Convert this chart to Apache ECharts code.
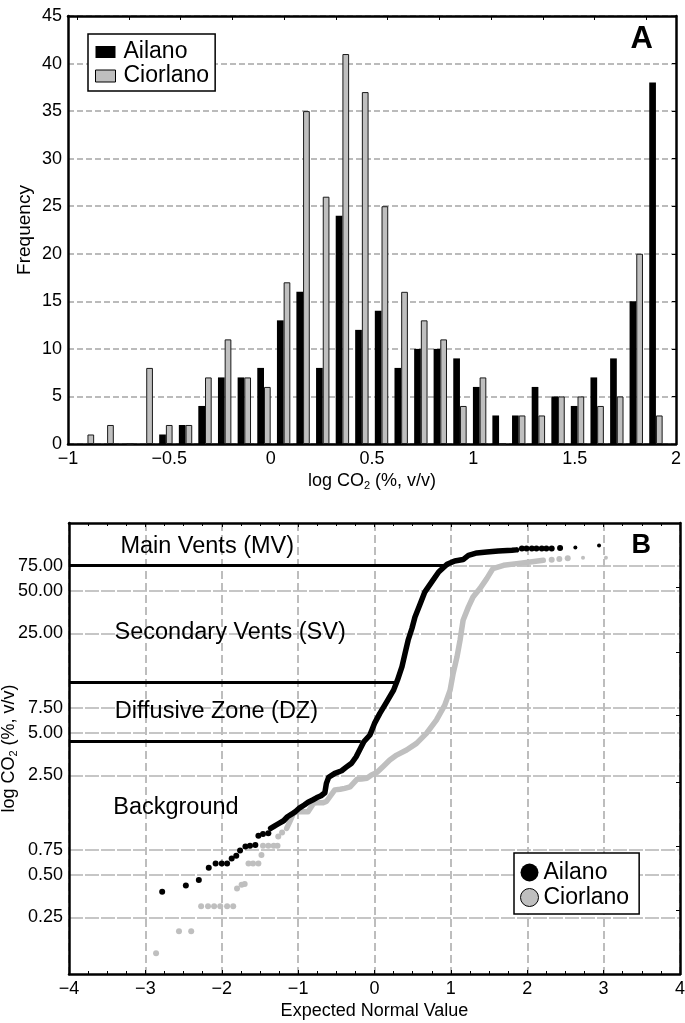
<!DOCTYPE html>
<html><head><meta charset="utf-8">
<script src="https://cdn.jsdelivr.net/npm/echarts@6/dist/echarts.min.js"></script>
<style>html,body{margin:0;padding:0;background:#fff;}#c{width:685px;height:1023px;}</style>
</head><body><div id="c"></div>
<script>
// ---------- Panel A: histogram ----------
const binCenters = [-0.904,-0.807,-0.710,-0.614,-0.517,-0.420,-0.324,-0.227,-0.130,-0.033,0.064,0.160,0.257,0.354,0.450,0.547,0.644,0.741,0.837,0.934,1.031,1.127,1.224,1.321,1.418,1.514,1.611,1.708,1.804,1.901];
const ailanoFreq   = [0,0,0,0,1,2,4,7,7,8,13,16,8,24,12,14,8,10,10,9,6,3,3,6,5,4,7,9,15,38];
const ciorlanoFreq = [1,2,0,8,2,2,7,11,7,6,17,35,26,41,37,25,16,13,11,4,7,0,3,3,5,5,4,5,20,3];
const histTopTicks = [-0.956,-0.699,-0.447,-0.190,0.066,0.323,0.573,0.830,1.087,1.343,1.595,1.851];

// ---------- Panel B: normal probability plot ([expected normal value, CO2 %]) ----------
const ailanoDots = [[-2.78,0.38],[-2.47,0.42],[-2.30,0.46],[-2.17,0.56],[-2.08,0.60],[-2.00,0.60],[-1.93,0.60],[-1.87,0.65],[-1.81,0.68],[-1.76,0.74],[-1.69,0.79],[-1.63,0.80],[-1.56,0.81],[-1.52,0.94],[-1.46,0.97],[-1.39,0.98],
  [1.93,99],[1.99,99],[2.06,99],[2.12,99],[2.19,99],[2.25,99],[2.32,99],[2.43,100],[2.63,101],[2.94,104]];
const ailanoCurve = [[-1.36,1.06],[-1.30,1.11],[-1.25,1.15],[-1.19,1.20],[-1.14,1.28],[-1.08,1.34],[-1.03,1.40],[-0.98,1.48],[-0.92,1.55],[-0.87,1.62],[-0.81,1.68],[-0.76,1.74],[-0.70,1.80],[-0.65,1.89],[-0.63,2.20],[-0.60,2.43],[-0.52,2.59],[-0.43,2.70],[-0.37,2.86],[-0.30,3.05],[-0.24,3.39],[-0.19,3.82],[-0.14,4.32],[-0.06,4.82],[0.00,5.82],[0.07,6.84],[0.16,8.26],[0.25,9.98],[0.30,11.7],[0.36,14.6],[0.40,18.1],[0.44,22.4],[0.49,27.1],[0.53,32.7],[0.60,40.6],[0.66,49.1],[0.75,57.7],[0.84,67.8],[0.95,76.8],[1.05,81.1],[1.16,82.9],[1.23,88.8],[1.34,92.3],[1.47,93.8],[1.62,95.3],[1.80,96.4],[1.86,97]];
const ciorlanoDots = [[-2.86,0.14],[-2.56,0.20],[-2.40,0.20],[-2.27,0.30],[-2.18,0.30],[-2.10,0.30],[-2.02,0.30],[-1.93,0.30],[-1.85,0.30],[-1.80,0.40],[-1.74,0.425],[-1.70,0.43],[-1.65,0.60],[-1.59,0.60],[-1.52,0.60],[-1.48,0.69],[-1.46,0.80],[-1.39,0.80],[-1.32,0.80],[-1.27,0.80],[-1.26,0.93],[-1.21,0.99],
  [2.32,82.8],[2.42,83.7],[2.53,84.7],[2.73,85.5],[3.03,85.5]];
const ciorlanoCurve = [[-1.15,1.06],[-1.11,1.18],[-1.06,1.36],[-1.00,1.39],[-0.93,1.39],[-0.87,1.39],[-0.80,1.59],[-0.74,1.61],[-0.67,1.61],[-0.63,1.64],[-0.52,1.98],[-0.45,2.00],[-0.39,2.03],[-0.32,2.08],[-0.23,2.35],[-0.17,2.36],[-0.10,2.39],[-0.04,2.52],[0.03,2.62],[0.11,2.88],[0.20,3.21],[0.29,3.48],[0.42,3.78],[0.55,4.21],[0.68,4.95],[0.81,6.14],[0.92,7.83],[0.99,9.98],[1.03,13.1],[1.08,17.1],[1.12,22.4],[1.16,31.0],[1.23,38.5],[1.29,45.2],[1.38,51.8],[1.47,60.9],[1.55,71.6],[1.69,75.5],[1.86,77.6],[2.04,79.8],[2.21,82.0]];
const probTickLabels = [0.25,0.5,0.75,2.5,5,7.5,25,50,75];
const probRightTicks = [-0.548,-0.098,0.352,0.824,1.267,1.724];
const zoneLimits = [75, 11.4, 4.37];
const zoneLineEnds = [0.97, 0.27, -0.18];
const zoneNames = ['Main Vents (MV)','Secondary Vents (SV)','Diffusive Zone (DZ)','Background'];
const zoneLabelPos = [[-2.19,102.8],[-1.89,25.5],[-2.07,7.11],[-2.60,1.48]];

const FONT = '"Liberation Sans", Arial, Helvetica, sans-serif';
const mfmt = v => String(v).replace('-', '\u2212');
const lg = v => Math.log10(v);
const toLog = arr => arr.map(p => [p[0], lg(p[1])]);
const GRAY = '#bfbfbf';
const subRich = {s:{fontSize:11, padding:[9,0,0,0], fontFamily:FONT, color:'#000'}};
const axisLine = {show:true, onZero:false, lineStyle:{color:'#000', width:2.5}};

const chart = echarts.init(document.getElementById('c'));
chart.setOption({
  animation:false,
  backgroundColor:'#fff',
  textStyle:{fontFamily:FONT, color:'#000'},
  title:[
    {text:'A', right:32, top:24, padding:0, textStyle:{fontSize:31, fontWeight:'bold', color:'#000', fontFamily:FONT}},
    {text:'B', right:34, top:532, padding:0, textStyle:{fontSize:27, fontWeight:'bold', color:'#000', fontFamily:FONT}}
  ],
  legend:[
    {left:88, top:34, orient:'vertical', padding:[6,6,3,7], itemGap:0, itemWidth:20, itemHeight:12,
     borderColor:'#000', borderWidth:1.5, backgroundColor:'#fff', selectedMode:false,
     textStyle:{fontSize:23, color:'#000', lineHeight:24, fontFamily:FONT, padding:[0,0,0,3]},
     data:[{name:'Ailano', icon:'rect', itemStyle:{color:'#000', borderWidth:0}},
           {name:'Ciorlano', icon:'rect', itemStyle:{color:GRAY, borderColor:'#000', borderWidth:1}}]},
    {left:514, top:853, orient:'vertical', padding:[7,10,4,6], itemGap:0, itemWidth:18, itemHeight:18,
     borderColor:'#000', borderWidth:1.5, backgroundColor:'#fff', selectedMode:false,
     textStyle:{fontSize:23, color:'#000', lineHeight:25, fontFamily:FONT},
     data:[{name:'Ailano', icon:'circle', itemStyle:{color:'#000', borderWidth:0}},
           {name:'Ciorlano', icon:'circle', itemStyle:{color:GRAY, borderColor:'#000', borderWidth:1}}]}
  ],
  grid:[
    {left:68, top:16, width:608, height:428, containLabel:false, outerBoundsMode:'none'},
    {left:69, top:523, width:611, height:451, containLabel:false, outerBoundsMode:'none'}
  ],
  xAxis:[
    {gridIndex:0, type:'value', min:-1, max:2, interval:0.5, position:'bottom',
     axisLine:axisLine, axisTick:{show:false}, splitLine:{show:false},
     axisLabel:{fontSize:18, color:'#000', margin:6, formatter:mfmt},
     name:'log CO{s|2} (%, v/v)', nameLocation:'middle', nameGap:27, nameMoveOverlap:false,
     nameTextStyle:{fontSize:18, color:'#000', rich:subRich}},
    {gridIndex:0, type:'value', min:-1, max:2, position:'top',
     axisLine:axisLine, axisTick:{show:true, inside:true, length:4, customValues:histTopTicks, lineStyle:{color:'#000', width:1}},
     axisLabel:{show:false}, splitLine:{show:false}},
    {gridIndex:1, type:'value', min:-4, max:4, interval:1, position:'bottom',
     axisLine:axisLine, axisTick:{show:true, inside:true, length:4, lineStyle:{color:'#000'}},
     minorTick:{show:true, splitNumber:4, length:3, lineStyle:{color:'#000'}},
     splitLine:{show:true, lineStyle:{color:'#bdbdbd', width:2, type:[8,4]}},
     axisLabel:{fontSize:18, color:'#000', margin:6, formatter:mfmt},
     name:'Expected Normal Value', nameLocation:'middle', nameGap:28, nameMoveOverlap:false,
     nameTextStyle:{fontSize:18, color:'#000'}},
    {gridIndex:1, type:'value', min:-4, max:4, interval:1, position:'top',
     axisLine:axisLine, axisTick:{show:true, inside:true, length:4, lineStyle:{color:'#000'}},
     minorTick:{show:true, splitNumber:4, length:3, lineStyle:{color:'#000'}},
     axisLabel:{show:false}, splitLine:{show:false}}
  ],
  yAxis:[
    {gridIndex:0, type:'value', min:0, max:45, interval:5, position:'left',
     axisLine:axisLine, axisTick:{show:false},
     axisLabel:{fontSize:18, color:'#000', margin:6},
     splitLine:{show:true, lineStyle:{color:'#bbbbbb', width:2, type:[6,3]}},
     name:'Frequency', nameLocation:'middle', nameGap:34, nameRotate:90, nameMoveOverlap:false,
     nameTextStyle:{fontSize:19, color:'#000'}},
    {gridIndex:0, type:'value', min:0, max:45, interval:5, position:'right',
     axisLine:axisLine, axisTick:{show:true, inside:true, length:4, lineStyle:{color:'#000'}},
     axisLabel:{show:false}, splitLine:{show:false}},
    {gridIndex:1, type:'value', min:-1, max:lg(150), position:'left',
     axisLine:axisLine, axisTick:{show:false, customValues:probTickLabels.map(lg)},
     axisLabel:{fontSize:18, color:'#000', margin:6, customValues:probTickLabels.map(lg),
       formatter: v => Math.pow(10, v).toFixed(2)},
     splitLine:{show:true, lineStyle:{color:'#c6c6c6', width:2, type:[14,2]}},
     name:'log CO{s|2} (%, v/v)', nameLocation:'middle', nameGap:50, nameRotate:90, nameMoveOverlap:false,
     nameTextStyle:{fontSize:18, color:'#000', rich:subRich}},
    {gridIndex:1, type:'value', min:-1, max:lg(150), position:'right',
     axisLine:axisLine, axisTick:{show:true, inside:true, length:4, customValues:probRightTicks, lineStyle:{color:'#000'}},
     axisLabel:{show:false}, splitLine:{show:false}}
  ],
  series:[
    {name:'Ailano', type:'bar', xAxisIndex:0, yAxisIndex:0, barWidth:6.7, barGap:'0%',
     itemStyle:{color:'#000'}, data:binCenters.map((x,i)=>[x, ailanoFreq[i]])},
    {name:'Ciorlano', type:'bar', xAxisIndex:0, yAxisIndex:0, barWidth:6.7, barGap:'0%',
     itemStyle:{color:GRAY, borderColor:'#1a1a1a', borderWidth:1}, data:binCenters.map((x,i)=>[x, ciorlanoFreq[i]])},
    {type:'lines', coordinateSystem:'cartesian2d', xAxisIndex:2, yAxisIndex:2, silent:true, z:3,
     lineStyle:{color:'#000', width:3, opacity:1},
     data: zoneLimits.map((v,i)=>({coords:[[-4, lg(v)],[zoneLineEnds[i], lg(v)]]}))},
    {type:'scatter', xAxisIndex:2, yAxisIndex:2, symbolSize:0, silent:true, z:4,
     itemStyle:{opacity:1},
     label:{show:true, position:'inside', formatter:'{b}', fontSize:23.5, color:'#000', fontFamily:FONT, textBorderWidth:0},
     data: zoneNames.map((n,i)=>({name:n, value:[zoneLabelPos[i][0], lg(zoneLabelPos[i][1])]}))},
    {name:'Ciorlano', type:'scatter', xAxisIndex:2, yAxisIndex:2, z:5,
     symbolSize: v => v[0] > 2.6 ? 4 : 6, itemStyle:{color:GRAY, opacity:1}, data: toLog(ciorlanoDots)},
    {name:'Ciorlano', type:'line', xAxisIndex:2, yAxisIndex:2, z:5, showSymbol:false, symbol:'none',
     lineStyle:{color:GRAY, width:5.5, cap:'round', join:'round'}, itemStyle:{color:GRAY}, data: toLog(ciorlanoCurve)},
    {name:'Ailano', type:'scatter', xAxisIndex:2, yAxisIndex:2, z:6,
     symbolSize: v => v[0] > 2.6 ? 4 : 6, itemStyle:{color:'#000', opacity:1}, data: toLog(ailanoDots)},
    {name:'Ailano', type:'line', xAxisIndex:2, yAxisIndex:2, z:6, showSymbol:false, symbol:'none',
     lineStyle:{color:'#000', width:5.5, cap:'round', join:'round'}, itemStyle:{color:'#000'}, data: toLog(ailanoCurve)}
  ]
});
</script></body></html>
